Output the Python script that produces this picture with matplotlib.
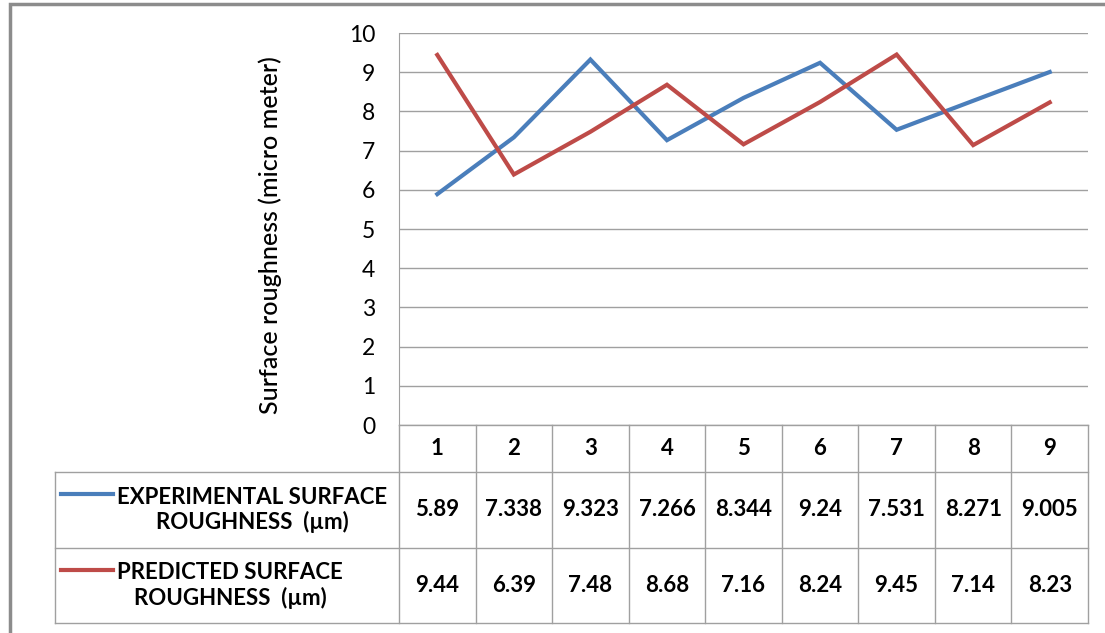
import matplotlib
matplotlib.use("Agg")
import matplotlib.pyplot as plt
from matplotlib.transforms import blended_transform_factory
from matplotlib.patches import Rectangle
from matplotlib.lines import Line2D

plt.rcParams['font.family'] = ['Lato', 'DejaVu Sans']

# Roughness values for the nine runs
runs = [1, 2, 3, 4, 5, 6, 7, 8, 9]
experimental = [5.89, 7.338, 9.323, 7.266, 8.344, 9.24, 7.531, 8.271, 9.005]
predicted = [9.44, 6.39, 7.48, 8.68, 7.16, 8.24, 9.45, 7.14, 8.23]
series_names = ['EXPERIMENTAL SURFACE\nROUGHNESS  (\u00b5m)',
                'PREDICTED SURFACE\nROUGHNESS  (\u00b5m)']
blue = '#4A7EBB'
red = '#BE4B48'
grid_col = '#A0A0A0'

W, H = 1105, 633
fig = plt.figure(figsize=(W / 100, H / 100), dpi=100)

def fy(py):
    # pixel row (from top) -> figure fraction
    return 1 - py / H

def fx(px):
    return px / W

x0, x1 = 399, 1088
y_top, y_zero = 33, 425
ax = fig.add_axes([fx(x0), fy(y_zero), fx(x1) - fx(x0), fy(y_top) - fy(y_zero)])
ax.plot(runs, experimental, color=blue, lw=3, solid_joinstyle='miter', zorder=3)
ax.plot(runs, predicted, color=red, lw=3, solid_joinstyle='miter', zorder=3)
ax.set_xlim(0.5, 9.5)
ax.set_ylim(0, 10)
ax.set_yticks(range(0, 11))
ax.set_xticks([])
ax.yaxis.grid(True, color=grid_col, lw=1)
ax.set_axisbelow(True)
for s in ['top', 'right', 'bottom']:
    ax.spines[s].set_visible(False)
ax.spines['left'].set_color(grid_col)
ax.tick_params(axis='y', length=0, pad=17, labelsize=16.5)
ax.set_ylabel('Surface roughness (micro meter)', fontsize=18, fontweight='medium')
ax.yaxis.set_label_coords(fx(282), fy(235), transform=fig.transFigure)

# data table under the plot
tr = blended_transform_factory(ax.transData, fig.transFigure)
row_y = [425, 472, 548, 623]
lkw = dict(color=grid_col, lw=1, clip_on=False)

# horizontal rules
fig.add_artist(Line2D([fx(x0), fx(x1)], [fy(row_y[0])] * 2, **lkw))
for py in row_y[1:]:
    fig.add_artist(Line2D([fx(55), fx(x1)], [fy(py)] * 2, **lkw))
# vertical rules
fig.add_artist(Line2D([fx(55), fx(55)], [fy(row_y[1]), fy(row_y[3])], **lkw))
fig.add_artist(Line2D([fx(x0), fx(x0)], [fy(row_y[0]), fy(row_y[3])], **lkw))
for b in [r + 0.5 for r in runs]:
    fig.add_artist(Line2D([b, b], [fy(row_y[0]), fy(row_y[3])], transform=tr, **lkw))

cell_kw = dict(transform=tr, ha='center', va='center', fontsize=16, fontweight='bold')
for i, r in enumerate(runs):
    fig.text(r, fy((row_y[0] + row_y[1]) / 2), str(r), **cell_kw)
    fig.text(r, fy((row_y[1] + row_y[2]) / 2), str(experimental[i]), **cell_kw)
    fig.text(r, fy((row_y[2] + row_y[3]) / 2), str(predicted[i]), **cell_kw)

# legend keys inside the row headers
for k, (name, col) in enumerate(zip(series_names, [blue, red])):
    top, bot = row_y[k + 1], row_y[k + 2]
    mid = (top + bot) / 2
    fig.add_artist(Line2D([fx(61), fx(113)], [fy(mid - 16)] * 2, color=col, lw=3))
    fig.text(fx(117), fy(mid), name, ha='left', va='center', multialignment='center',
             fontsize=16, fontweight='bold', linespacing=1.2)

# chart frame
fig.add_artist(Rectangle((fx(10), fy(H + 20)), fx(W + 20), fy(4) - fy(H + 20),
                         fill=False, edgecolor='#8C8C8C', lw=2.5, transform=fig.transFigure))

fig.savefig('out.png', dpi=100)
